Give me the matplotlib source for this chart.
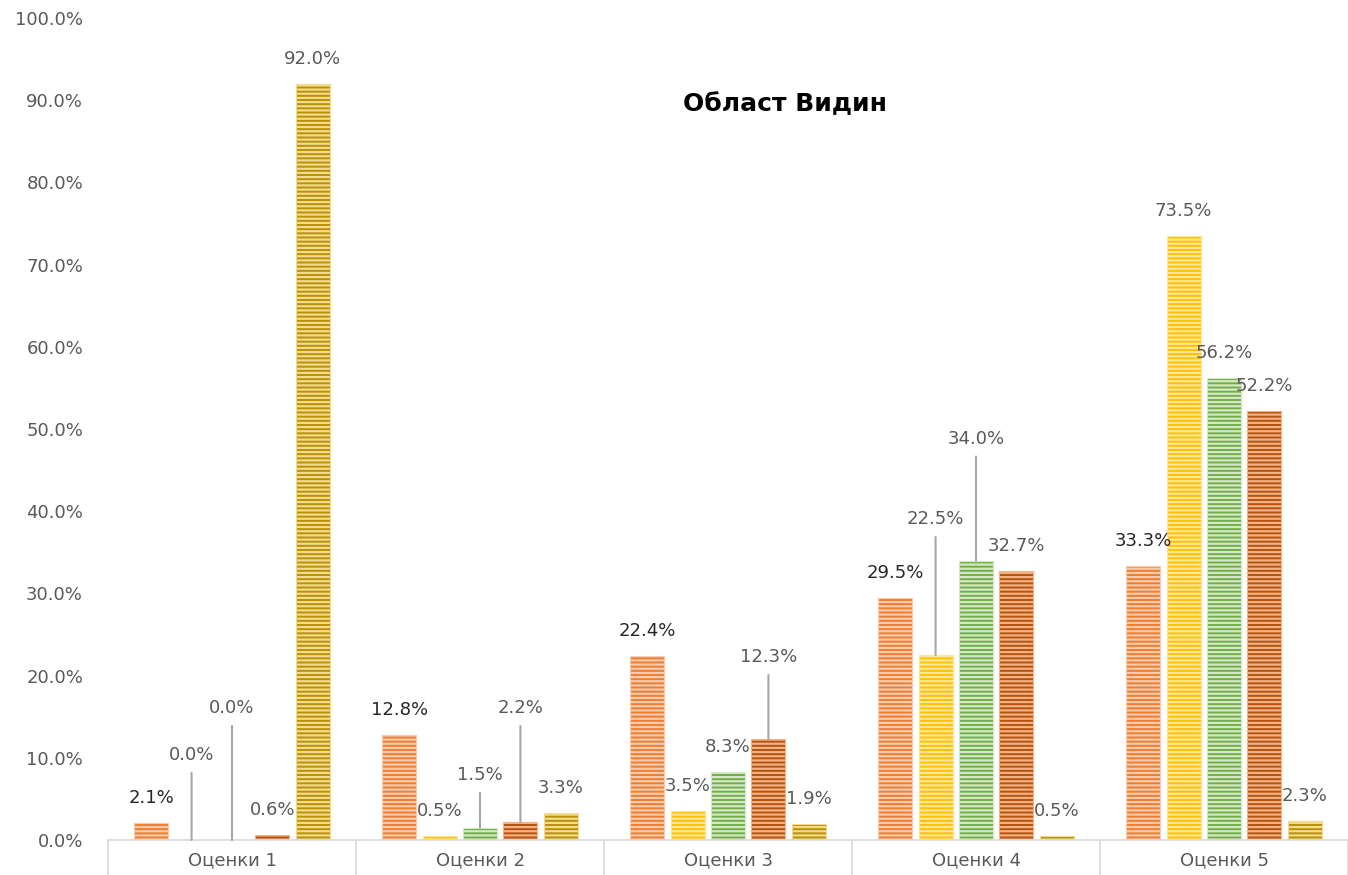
import matplotlib
matplotlib.use("Agg")
import matplotlib.pyplot as plt
import numpy as np

# data (percent)
categories = ["Оценки 1", "Оценки 2", "Оценки 3", "Оценки 4", "Оценки 5"]
s_orange = [2.1, 12.8, 22.4, 29.5, 33.3]
s_yellow = [0.0, 0.5, 3.5, 22.5, 73.5]
s_green = [0.0, 1.5, 8.3, 34.0, 56.2]
s_brown = [0.6, 2.2, 12.3, 32.7, 52.2]
s_gold = [92.0, 3.3, 1.9, 0.5, 2.3]
series = [s_orange, s_yellow, s_green, s_brown, s_gold]

# (base, stripe) colours per series
colors = [("#ED7D31", "#F8CBAD"),
          ("#FFC000", "#FFE699"),
          ("#70AD47", "#D5E8C6"),
          ("#B4530F", "#F4B183"),
          ("#B8900A", "#F2DC8C")]
label_colors = ["#262626", "#595959", "#595959", "#595959", "#595959"]

# labels pushed up with a leader line: (series, category) -> lift in px
leader = {(1, 0): 85, (2, 0): 132, (2, 1): 53, (3, 1): 114,
          (3, 2): 82, (1, 3): 136, (2, 3): 122}

plt.rcParams["hatch.linewidth"] = 1.6
plt.rcParams["font.family"] = ["DejaVu Sans"]

fig = plt.figure(figsize=(13.48, 8.75), dpi=100)
ax = fig.add_axes([108 / 1348, 35 / 875, 1240 / 1348, 822 / 875])

x = np.arange(len(categories))
step = 0.163
width = 0.137

for i, vals in enumerate(series):
    base, stripe = colors[i]
    pos = x + (i - 2) * step
    ax.bar(pos, np.array(vals) / 100, width, color=base, edgecolor=stripe,
           linewidth=0.8, hatch="----", zorder=2)
    for j, v in enumerate(vals):
        lift = leader.get((i, j), 25)
        if (i, j) in leader:
            ax.annotate("", xy=(pos[j], v / 100), xytext=(0, lift - 18),
                        textcoords="offset pixels",
                        arrowprops=dict(arrowstyle="-", color="#a6a6a6",
                                        lw=1.5, shrinkA=0, shrinkB=0))
        ax.annotate(f"{v:.1f}%", xy=(pos[j], v / 100), xytext=(0, lift),
                    textcoords="offset pixels", ha="center", va="center",
                    fontsize=13, color=label_colors[i], zorder=4)

ax.set_xlim(-0.5, 4.5)
ax.set_ylim(0, 1.0)
ax.set_yticks(np.arange(0, 1.01, 0.1))
ax.set_yticklabels([f"{t * 100:.1f}%" for t in np.arange(0, 1.01, 0.1)])
ax.tick_params(axis="y", length=0, pad=18, labelsize=13, labelcolor="#595959")

# category boundaries as long ticks, names on minor ticks
ax.set_xticks(np.arange(-0.5, 5, 1))
ax.set_xticklabels([])
ax.tick_params(axis="x", which="major", length=26, width=1.2, color="#d9d9d9",
               direction="out")
ax.set_xticks(x, minor=True)
ax.set_xticklabels(categories, minor=True)
ax.tick_params(axis="x", which="minor", length=0, pad=8, labelsize=13,
               labelcolor="#595959")

for s in ["top", "right", "left"]:
    ax.spines[s].set_visible(False)
ax.spines["bottom"].set_color("#d9d9d9")
ax.spines["bottom"].set_linewidth(1.2)

ax.text(0.546, 0.895, "Област Видин", transform=ax.transAxes, ha="center",
        va="center", fontsize=18, fontweight="bold", color="black")

fig.savefig("out.png", dpi=100)
